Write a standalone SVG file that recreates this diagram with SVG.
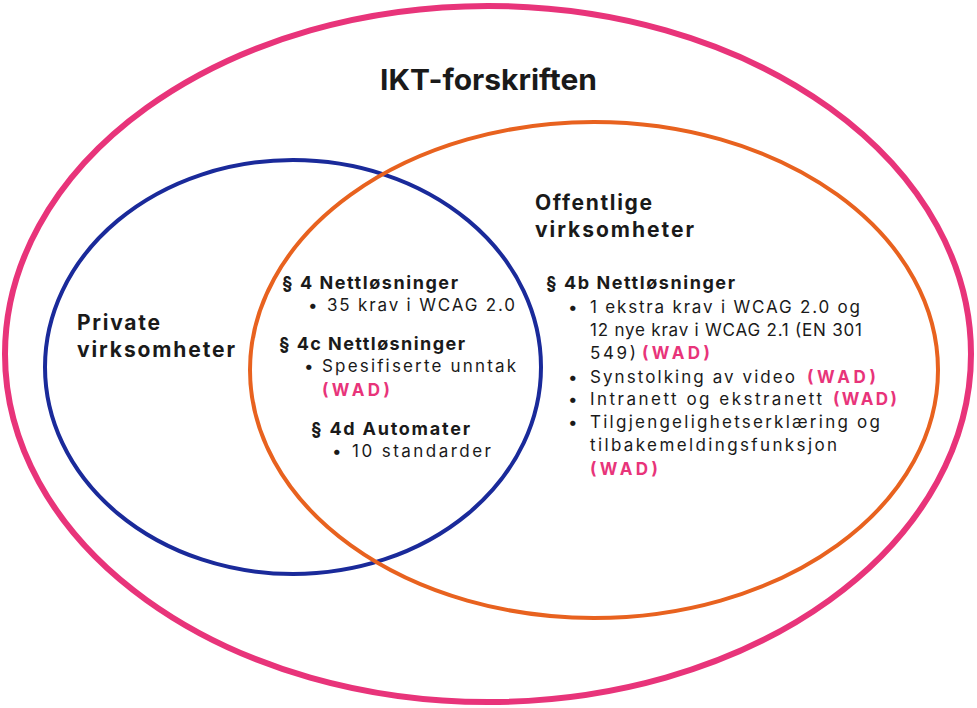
<svg xmlns="http://www.w3.org/2000/svg" width="977" height="708" viewBox="0 0 977 708">
<style>
text{font-family:Inter,"Open Sans","Liberation Sans",sans-serif;fill:#1a1a1a}
.h{font-weight:bold;font-size:18px}
.b{font-size:17px}
.w{fill:#e8347a;font-weight:bold;font-size:17px}
.big{font-weight:bold;font-size:21px}
</style>
<rect width="977" height="708" fill="#fff"/>
<g id="outer"><ellipse cx="488" cy="354" rx="483" ry="348" fill="none" stroke="#e8347a" stroke-width="6"/>
<text x="380" y="90" font-size="29" font-weight="bold" textLength="217" lengthAdjust="spacingAndGlyphs">IKT-forskriften</text></g>
<g id="private"><ellipse cx="293" cy="367" rx="248" ry="207" fill="none" stroke="#1a2a9a" stroke-width="4"/>
<text class="big" x="77" y="330" textLength="83">Private</text><text class="big" x="77" y="357" textLength="158">virksomheter</text></g>
<g id="offentlige"><ellipse cx="594" cy="370" rx="344" ry="248" fill="none" stroke="#e8621f" stroke-width="4"/>
<text class="big" x="535" y="210" textLength="117">Offentlige</text><text class="big" x="535" y="237" textLength="159">virksomheter</text></g>
<g id="overlap">
<text class="h" x="282" y="289" textLength="176">§ 4 Nettløsninger</text>
<text class="b" x="308" y="311">•</text><text class="b" x="327" y="311" textLength="188">35 krav i WCAG 2.0</text>
<text class="h" x="279" y="350" textLength="186">§ 4c Nettløsninger</text>
<text class="b" x="304" y="372">•</text><text class="b" x="322" y="372" textLength="194">Spesifiserte unntak</text>
<text class="w" x="322" y="396" textLength="68">(WAD)</text>
<text class="h" x="311" y="435" textLength="159">§ 4d Automater</text>
<text class="b" x="332" y="457">•</text><text class="b" x="352" y="457" textLength="139">10 standarder</text>
</g>
<g id="right">
<text class="h" x="546" y="289" textLength="189">§ 4b Nettløsninger</text>
<text class="b" x="568" y="313">•</text><text class="b" x="590" y="313" textLength="270">1 ekstra krav i WCAG 2.0 og</text>
<text class="b" x="590" y="336" textLength="272">12 nye krav i WCAG 2.1 (EN 301</text>
<text class="b" x="590" y="359" textLength="46">549)</text><text class="w" x="642" y="359" textLength="68">(WAD)</text>
<text class="b" x="568" y="383">•</text><text class="b" x="590" y="383" textLength="205">Synstolking av video</text><text class="w" x="807" y="383" textLength="69">(WAD)</text>
<text class="b" x="568" y="405">•</text><text class="b" x="590" y="405" textLength="232">Intranett og ekstranett</text><text class="w" x="833" y="405" textLength="64">(WAD)</text>
<text class="b" x="568" y="428">•</text><text class="b" x="590" y="428" textLength="290">Tilgjengelighetserklæring og</text>
<text class="b" x="590" y="451" textLength="247">tilbakemeldingsfunksjon</text>
<text class="w" x="590" y="475" textLength="68">(WAD)</text>
</g>
<g id="connectors"/>
</svg>
